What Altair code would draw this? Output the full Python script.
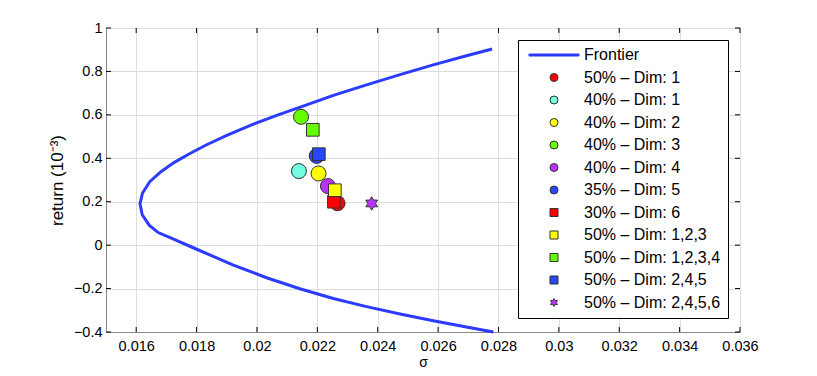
import altair as alt
import pandas as pd

# ---- data ----
frontier_sigma = [0.02783, 0.02694, 0.02584, 0.02474, 0.02363, 0.02253, 0.02142, 0.02032,
                  0.01922, 0.01789, 0.01720, 0.01673, 0.01643, 0.01620, 0.016126,
                  0.01621, 0.01645, 0.01682, 0.01725, 0.01775, 0.01830, 0.01900, 0.01980,
                  0.02070, 0.02160, 0.02253, 0.02363, 0.02474, 0.02584, 0.02694, 0.02779]
frontier_return = [-0.400, -0.377, -0.348, -0.317, -0.283, -0.246, -0.201, -0.150,
                   -0.092, -0.012, 0.030, 0.058, 0.092, 0.140, 0.190,
                   0.240, 0.292, 0.338, 0.380, 0.420, 0.460, 0.505, 0.553,
                   0.600, 0.644, 0.690, 0.738, 0.785, 0.830, 0.872, 0.903]

series = ["Frontier", "50% – Dim: 1", "40% – Dim: 1", "40% – Dim: 2", "40% – Dim: 3",
          "40% – Dim: 4", "35% – Dim: 5", "30% – Dim: 6", "50% – Dim: 1,2,3",
          "50% – Dim: 1,2,3,4", "50% – Dim: 2,4,5", "50% – Dim: 2,4,5,6"]
point_series = series[1:]
point_sigma = [0.02267, 0.02139, 0.02204, 0.02146, 0.02235, 0.02198,
               0.02255, 0.02258, 0.02185, 0.02205, 0.02380]
point_return = [0.193, 0.341, 0.330, 0.591, 0.272, 0.411,
                0.200, 0.253, 0.531, 0.419, 0.192]
point_kind = ["circle"] * 6 + ["square"] * 4 + ["star"]

x_ticks = [0.016, 0.018, 0.020, 0.022, 0.024, 0.026, 0.028, 0.030, 0.032, 0.034, 0.036]
y_ticks = [-0.4, -0.2, 0.0, 0.2, 0.4, 0.6, 0.8, 1.0]

# ---- styles ----
line_blue = "#2B3BFF"
fills = [line_blue, "#FF0000", "#73FFDF", "#FFFF00", "#66FF00", "#B833FF", "#2747FF",
         "#FF0000", "#FFFF00", "#66FF00", "#2747FF", "#B833FF"]
strokes = [line_blue] + ["#333333"] * 11
hexagram = ("M0,-1L0.2887,-0.5L0.866,-0.5L0.5774,0L0.866,0.5L0.2887,0.5L0,1"
            "L-0.2887,0.5L-0.866,0.5L-0.5774,0L-0.866,-0.5L-0.2887,-0.5Z")
line_sym = "M-6.25,-0.25H6.25V0.25H-6.25Z"
shapes = [line_sym] + ["circle"] * 6 + ["square"] * 4 + [hexagram]

W, H = 634, 304
FONT = "Liberation Sans"

frontier = pd.DataFrame({"sigma": frontier_sigma, "ret": frontier_return,
                         "idx": list(range(len(frontier_sigma)))})
pts = pd.DataFrame({"sigma": point_sigma, "ret": point_return,
                    "series": point_series, "kind": point_kind})
xt = pd.DataFrame({"sigma": x_ticks})
yt = pd.DataFrame({"ret": y_ticks})

xscale = alt.Scale(domain=[0.015, 0.036], nice=False, zero=False)
yscale = alt.Scale(domain=[-0.4, 1.0], nice=False, zero=False)
xaxis = alt.Axis(values=x_ticks, format=".3~f", grid=True, ticks=False, labelFlush=False,
                 title="σ", labelFontSize=14.5, titleFontSize=14, labelPadding=7,
                 titleBaseline="alphabetic", titleY=34, titleFontWeight="normal")
yaxis = alt.Axis(values=y_ticks, format=".1~f", grid=True, ticks=False, labelFlush=False,
                 title="return (10⁻³)", labelFontSize=14.5, titleFontSize=17,
                 labelPadding=4, titlePadding=7, titleFontWeight="normal")


def X(f="sigma"):
    return alt.X(f"{f}:Q", scale=xscale, axis=xaxis)


def Y(f="ret"):
    return alt.Y(f"{f}:Q", scale=yscale, axis=yaxis)


legend = alt.Legend(title=None, orient="none", legendX=412, legendY=12,
                    strokeColor="black", fillColor="white", padding=7,
                    symbolOffset=21, labelOffset=22, rowPadding=6.5,
                    labelFontSize=16, labelFont=FONT, symbolSize=64,
                    symbolStrokeWidth=1, symbolOpacity=1, labelLimit=300,
                    labelExpr="datum.label + '   \u2007'", cornerRadius=0)

fill_enc = alt.Fill("series:N", scale=alt.Scale(domain=series, range=fills), legend=legend)
stroke_enc = alt.Stroke("series:N", scale=alt.Scale(domain=series, range=strokes), legend=legend)
shape_enc = alt.Shape("series:N", scale=alt.Scale(domain=series, range=shapes), legend=legend)

line = alt.Chart(frontier).mark_line(color=line_blue, strokeWidth=3).encode(
    x=X(), y=Y(), order="idx:Q")


def pt_layer(kind, size):
    return alt.Chart(pts).transform_filter(alt.datum.kind == kind).mark_point(
        filled=True, size=size, strokeWidth=1, opacity=1).encode(
        x=X(), y=Y(), fill=fill_enc, stroke=stroke_enc, shape=shape_enc)


circles = pt_layer("circle", 225)
squares = pt_layer("square", 160)
star = pt_layer("star", 180)

tb = alt.Chart(xt).mark_rule(color="black").encode(x=X(), y=alt.value(H), y2=alt.value(H - 5))
tt = alt.Chart(xt).mark_rule(color="black").encode(x=X(), y=alt.value(0), y2=alt.value(5))
tl = alt.Chart(yt).mark_rule(color="black").encode(y=Y(), x=alt.value(0), x2=alt.value(5))
tr = alt.Chart(yt).mark_rule(color="black").encode(y=Y(), x=alt.value(W), x2=alt.value(W - 5))

chart = alt.layer(line, tb, tt, tl, tr, circles, squares, star).properties(
    width=W, height=H,
    autosize=alt.AutoSizeParams(type="none"),
    padding={"left": 98, "top": 20, "right": 60, "bottom": 36},
).configure_view(stroke="black", strokeWidth=1).configure_axis(
    domainColor="black", labelColor="black", titleColor="black",
    labelFont=FONT, titleFont=FONT, gridColor="#555555", gridDash=[1, 5],
    gridWidth=1, gridOpacity=0.9,
).configure(background="white")

chart.save("out.html", embed_options={"renderer": "svg", "actions": False})
